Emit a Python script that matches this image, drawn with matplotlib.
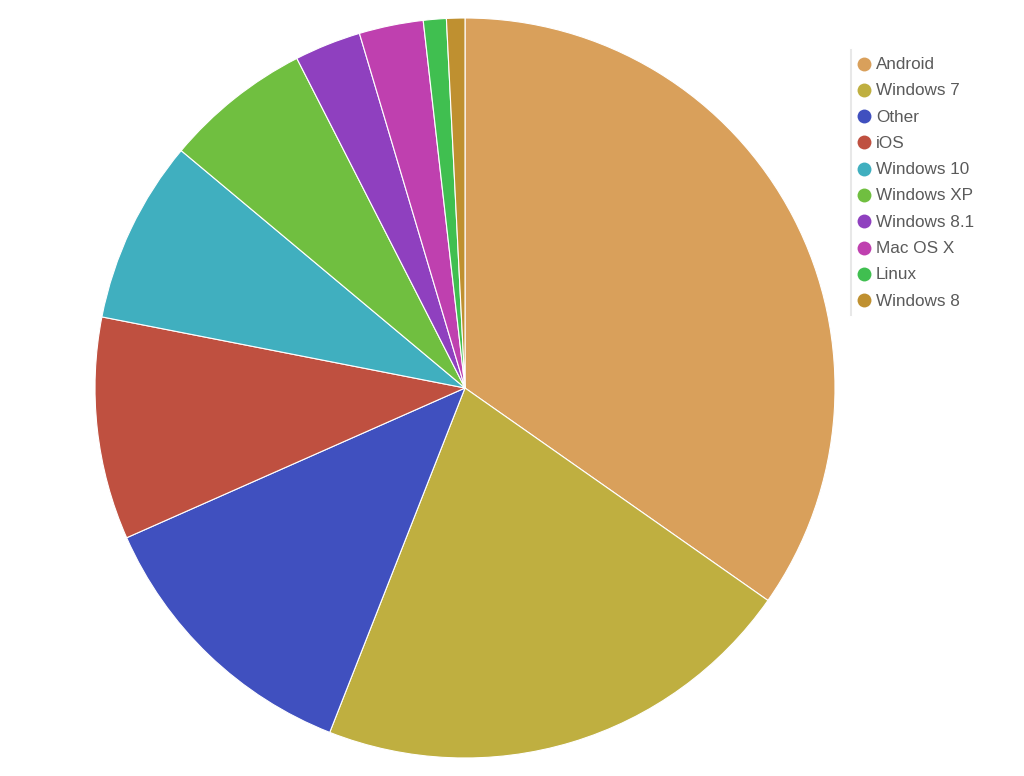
import matplotlib
matplotlib.use("Agg")
import matplotlib.pyplot as plt
from matplotlib.lines import Line2D

labels = ["Android", "Windows 7", "Other", "iOS", "Windows 10", "Windows XP",
          "Windows 8.1", "Mac OS X", "Linux", "Windows 8"]
values = [34.7, 21.2, 12.4, 9.7, 8.0, 6.4, 2.9, 2.8, 1.0, 0.8]
colors = ["#D9A05B", "#BFAF40", "#4050BF", "#BF5040", "#40AFBF", "#70BF40",
          "#8F40BF", "#BF40AF", "#40BF50", "#BF9030"]

W, H = 1024, 776
fig = plt.figure(figsize=(W / 100, H / 100), dpi=100)
fig.patch.set_facecolor("white")

cx, cy, r = 465, 388, 370
ax = fig.add_axes([(cx - r) / W, (H - cy - r) / H, 2 * r / W, 2 * r / H])
ax.pie(values, colors=colors, startangle=90, counterclock=False, radius=1,
       wedgeprops=dict(edgecolor="white", linewidth=0.8))
ax.set_xlim(-1, 1)
ax.set_ylim(-1, 1)
ax.set_aspect("equal")
ax.axis("off")

# legend
lax = fig.add_axes([0, 0, 1, 1], facecolor="none")
lax.set_xlim(0, W)
lax.set_ylim(H, 0)
lax.axis("off")
lax.add_line(Line2D([851, 851], [50, 315], color="#e8e8e8", lw=1.5))
y0, dy = 63.5, 26.3
for i, (lab, col) in enumerate(zip(labels, colors)):
    y = y0 + i * dy
    lax.plot([864], [y], marker="o", markersize=10, color=col, markeredgewidth=0)
    lax.text(876, y + 1, lab, fontsize=12.3, color="#5a5a5a", va="center", ha="left",
             family="Liberation Sans")

fig.savefig("out.png", dpi=100, facecolor="white")
